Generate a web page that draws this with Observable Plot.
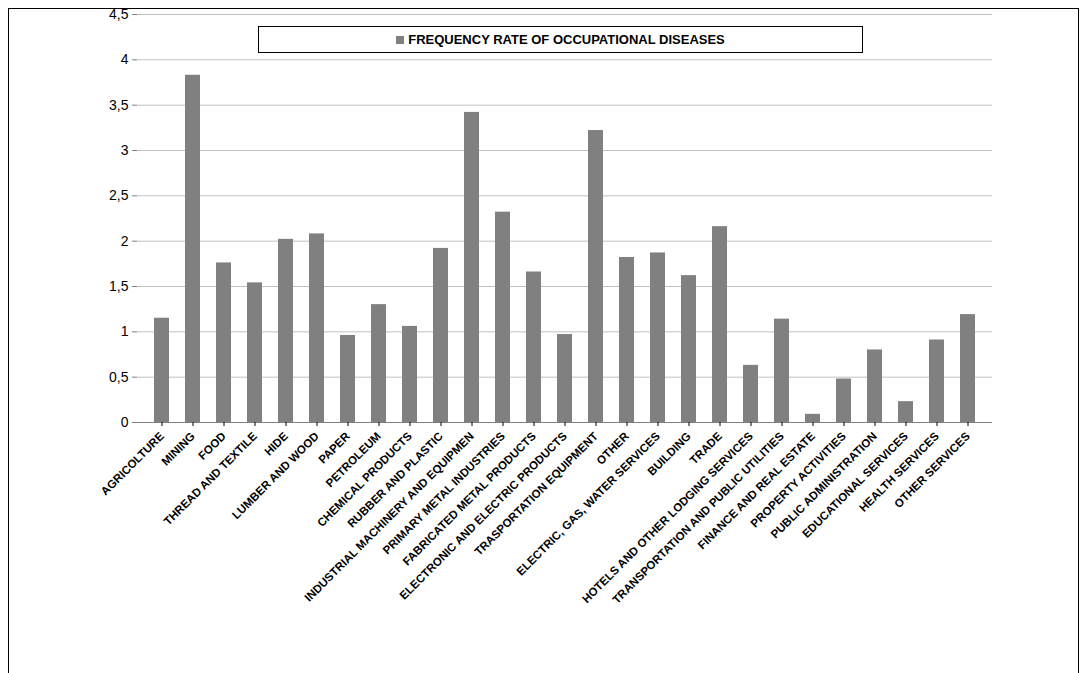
<!DOCTYPE html>
<html><head><meta charset="utf-8">
<script src="https://cdn.jsdelivr.net/npm/d3@7"></script>
<script src="https://cdn.jsdelivr.net/npm/@observablehq/plot@0.6"></script>
<style>
body{margin:0;background:#fff;font-family:"Liberation Sans",Arial,sans-serif}
#wrap{position:relative;width:1085px;height:673px}
#border{position:absolute;left:8px;top:8px;width:1069px;height:680px;border:1px solid #000}
#legend{position:absolute;left:258px;top:26px;width:603px;height:25px;border:1px solid #000;background:#fff;
 font-weight:bold;font-size:13px;display:flex;align-items:center;justify-content:center}
#legend span{display:inline-block;width:8px;height:8px;background:#808080;margin-right:4px}
</style></head><body>
<div id="wrap"><div id="vis"></div><div id="border"></div>
<div id="legend"><span></span>FREQUENCY RATE OF OCCUPATIONAL DISEASES</div></div>
<script>
const sectors = ["AGRICOLTURE","MINING","FOOD","THREAD AND TEXTILE","HIDE","LUMBER AND WOOD","PAPER","PETROLEUM","CHEMICAL PRODUCTS","RUBBER AND PLASTIC","INDUSTRIAL MACHINERY AND EQUIPMEN","PRIMARY METAL INDUSTRIES","FABRICATED METAL PRODUCTS","ELECTRONIC AND ELECTRIC PRODUCTS","TRASPORTATION EQUIPMENT","OTHER","ELECTRIC, GAS, WATER SERVICES","BUILDING","TRADE","HOTELS AND OTHER LODGING SERVICES","TRANSPORTATION AND PUBLIC UTILITIES","FINANCE AND REAL ESTATE","PROPERTY ACTIVITIES","PUBLIC ADMINISTRATION","EDUCATIONAL SERVICES","HEALTH SERVICES","OTHER SERVICES"]
const rates = [1.15,3.83,1.76,1.54,2.02,2.08,0.96,1.30,1.06,1.92,3.42,2.32,1.66,0.97,3.22,1.82,1.87,1.62,2.16,0.63,1.14,0.09,0.48,0.80,0.23,0.91,1.19]
const yTicks = [0,0.5,1,1.5,2,2.5,3,3.5,4,4.5]
const data = sectors.map((s,i)=>({sector:s, rate:rates[i]}))
const fmt = d => String(d).replace(".", ",")

let chart = Plot.plot({
  width: 1085, height: 673,
  marginLeft: 137, marginRight: 93, marginTop: 14, marginBottom: 251,
  x: {domain: sectors, padding: 0.52, label: null},
  y: {domain: [0,4.5], label: null},
  marks: [
    Plot.gridY(yTicks, {stroke: "#c0c0c0", strokeOpacity: 1}),
    Plot.barY(data, {x: "sector", y: "rate", fill: "#808080"}),
    Plot.ruleY([0], {stroke: "#808080"}),
    Plot.ruleX([0], {frameAnchor: "left", stroke: "#808080"}),
    Plot.axisY(yTicks, {tickFormat: fmt, fontSize: 14, tickSize: 5, tickPadding: 4, stroke: "#808080", fill: "#000"}),
    Plot.axisX({tickRotate: -45, fontSize: 11.5, fontWeight: "bold", tickSize: 4, fill: "#000"})
  ],
  style: {fontFamily: "'Liberation Sans', Arial, sans-serif", color: "#000", background: "#fff"}
})
d3.select('#vis').append(() => chart)
</script></body></html>
